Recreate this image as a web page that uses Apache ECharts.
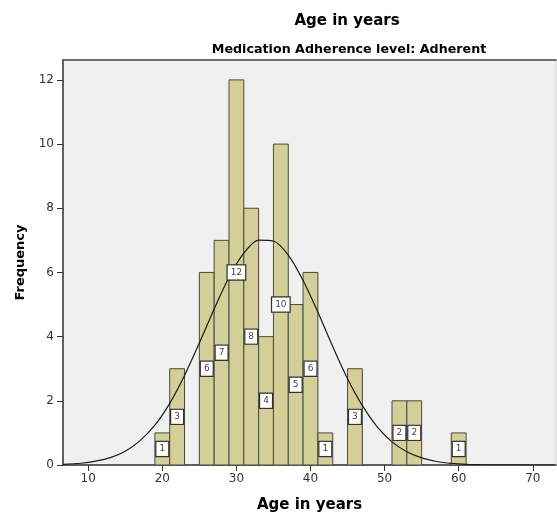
<!DOCTYPE html>
<html>
<head>
<meta charset="utf-8">
<script src="https://cdn.jsdelivr.net/npm/echarts@6/dist/echarts.min.js"></script>
<style>html,body{margin:0;padding:0;background:#fff}#c{width:557px;height:516px}</style>
</head>
<body>
<div id="c"></div>
<script>
// Histogram bins (start, end) and counts
const binStarts = [19, 21, 25, 27, 29, 31, 33, 35, 37, 39, 41, 45, 51, 53, 59];
const binEnds   = [21, 23, 27, 29, 31, 33, 35, 37, 39, 41, 43, 47, 53, 55, 61];
const counts    = [1, 3, 6, 7, 12, 8, 4, 10, 5, 6, 1, 3, 2, 2, 1];
// Normal curve
const curveX = [6.6, 9, 11, 13, 15, 17, 19, 21, 23, 25, 27, 29, 31, 33, 35, 37, 39, 41, 43, 45, 47, 49, 51, 53, 55, 57, 59, 61, 63, 65, 68, 73];
const curveY = [0.02, 0.055, 0.12, 0.23, 0.43, 0.76, 1.24, 1.92, 2.79, 3.80, 4.86, 5.85, 6.60, 7.01, 6.98, 6.54, 5.75, 4.76, 3.69, 2.69, 1.85, 1.19, 0.72, 0.41, 0.22, 0.11, 0.05, 0.02, 0.01, 0.003, 0.001, 0];
const xTicks = [10, 20, 30, 40, 50, 60, 70];
const yTicks = [0, 2, 4, 6, 8, 10, 12];

const FONT = '"DejaVu Sans", Verdana, sans-serif';
const chart = echarts.init(document.getElementById('c'));
const barData = binStarts.map((s, i) => [s, binEnds[i], counts[i]]);
const curveData = curveX.map((x, i) => [x, curveY[i]]);

chart.setOption({
  animation: false,
  textStyle: { fontFamily: FONT },
  title: [
    { text: 'Age in years', left: 342, top: 9, textAlign: 'center',
      textStyle: { fontSize: 15, fontWeight: 'bold', color: '#000', fontFamily: FONT } },
    { text: 'Medication Adherence level: Adherent', left: 344, top: 38, textAlign: 'center',
      textStyle: { fontSize: 12.7, fontWeight: 'bold', color: '#000', fontFamily: FONT } }
  ],
  grid: { left: 63, top: 60, right: 1, bottom: 51, containLabel: false, outerBoundsMode: 'none',
    show: true, backgroundColor: '#f0f0f0', borderColor: '#cfcfcf', borderWidth: 1 },
  xAxis: [{
    type: 'value', min: 6.6, max: 73.13,
    name: 'Age in years', nameLocation: 'middle', nameGap: 33,
    nameTextStyle: { fontSize: 15, fontWeight: 'bold', color: '#000', fontFamily: FONT },
    axisLine: { show: true, lineStyle: { color: '#333', width: 1.5 } },
    axisTick: { show: true, length: 6, customValues: xTicks, lineStyle: { color: '#333' } },
    axisLabel: { customValues: xTicks, color: '#333', fontSize: 12, margin: 8, fontFamily: FONT },
    splitLine: { show: false }
  }, {
    type: 'value', position: 'top', min: 6.6, max: 73.13,
    axisLine: { show: true, onZero: false, lineStyle: { color: '#444', width: 1.5 } },
    axisTick: { show: false }, axisLabel: { show: false }, splitLine: { show: false }
  }],
  yAxis: {
    type: 'value', min: 0, max: 12.62,
    name: 'Frequency', nameLocation: 'middle', nameGap: 36,
    nameTextStyle: { fontSize: 13, fontWeight: 'bold', color: '#000', fontFamily: FONT },
    axisLine: { show: true, lineStyle: { color: '#333', width: 1.5 } },
    axisTick: { show: true, length: 6, customValues: yTicks, lineStyle: { color: '#333' } },
    axisLabel: { customValues: yTicks, color: '#333', fontSize: 12, margin: 9, fontFamily: FONT },
    splitLine: { show: false }
  },
  series: [
    {
      type: 'custom',
      data: barData,
      z: 2,
      renderItem: function (params, api) {
        const s = api.value(0), e = api.value(1), c = api.value(2);
        const p0 = api.coord([s, c]);
        const p1 = api.coord([e, 0]);
        return {
          type: 'rect', shape: { x: p0[0], y: p0[1], width: p1[0] - p0[0], height: p1[1] - p0[1] },
          style: { fill: '#d4ce98', stroke: '#4a4a40', lineWidth: 1 }
        };
      }
    },
    {
      type: 'line',
      data: curveData,
      smooth: 0.3,
      showSymbol: false,
      symbol: 'none',
      z: 3,
      lineStyle: { color: '#1a1a1a', width: 1.2 }
    },
    {
      type: 'custom',
      data: barData,
      z: 4,
      renderItem: function (params, api) {
        const s = api.value(0), e = api.value(1), c = api.value(2);
        const mid = api.coord([(s + e) / 2, c / 2]);
        return {
          type: 'text',
          x: mid[0], y: mid[1],
          style: {
            text: String(c), fill: '#444', font: '9px ' + FONT,
            align: 'center', verticalAlign: 'middle',
            backgroundColor: '#fff', borderColor: '#333', borderWidth: 1.2,
            padding: [3, 3, 2, 3]
          }
        };
      }
    }
  ]
});
</script>
</body>
</html>
